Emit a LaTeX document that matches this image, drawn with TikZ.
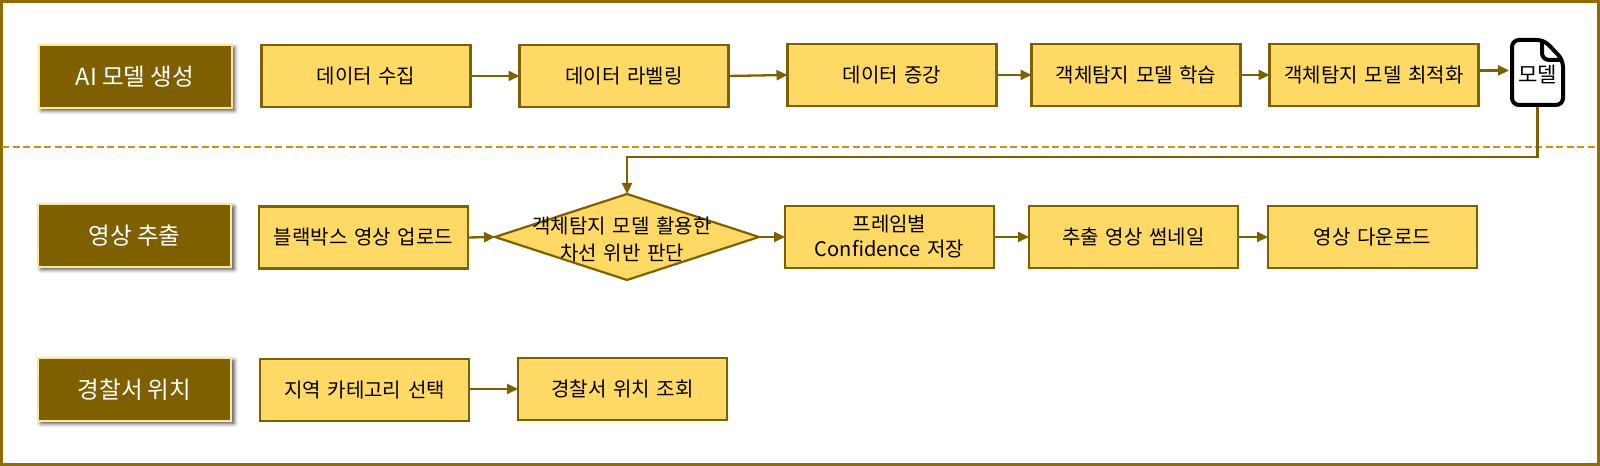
\documentclass[tikz,border=0pt]{standalone}
\usepackage{fontspec}
\setmainfont{Noto Sans CJK KR}
\usepackage{xcolor}
\usepackage{tikz}
\usetikzlibrary{calc}
\usetikzlibrary{shapes.geometric, arrows.meta, shadows.blur}
\definecolor{boxLine}{HTML}{7F6000}
\definecolor{boxFill}{HTML}{FFD966}
\definecolor{titleLine}{HTML}{FFE699}
\definecolor{sepLine}{HTML}{C8960C}
\definecolor{frameLine}{HTML}{8F6C00}
\tikzstyle{title} = [rectangle, 
minimum width=1.93cm, 
minimum height=0.63cm, 
inner sep=0pt, outer sep=0pt,
fill=boxLine, 
draw=titleLine, 
line width=0.02cm, 
text=white, 
font=\fontsize{6.7pt}{8pt}\selectfont,
blur shadow={shadow xshift=0.03cm, shadow yshift=-0.02cm, shadow blur radius=0.04cm, shadow opacity=75}]
\tikzstyle{process} = [rectangle, 
minimum height=0.62cm, 
text width=2.09cm, 
text centered, 
inner sep=0pt, outer sep=0pt,
fill=boxFill, 
draw=boxLine, 
line width=0.022cm, 
font=\fontsize{5.7pt}{7.1pt}\selectfont]
\tikzstyle{decision} = [diamond, 
minimum width=2.64cm, 
minimum height=0.86cm, 
inner sep=0pt, outer sep=0pt,
fill=boxFill, 
draw=boxLine, 
line width=0.022cm]
\tikzstyle{decisionText} = [text width=2.4cm, 
text centered, 
inner sep=0pt, 
font=\fontsize{5.7pt}{7.6pt}\selectfont]
\tikzstyle{modelFile} = [rectangle, 
minimum width=0.51cm, 
minimum height=0.65cm, 
inner sep=0pt, outer sep=0pt]
\tikzstyle{fileLine} = [draw=black, line width=0.04cm, rounded corners=0.07cm]
\tikzstyle{arrow} = [line width=0.023cm, draw=boxLine, -{Triangle[length=0.11cm, width=0.1cm]}]
\tikzstyle{frame} = [draw=frameLine, line width=0.03cm]
\tikzstyle{sep} = [draw=sepLine, line width=0.023cm, dash pattern=on 0.07cm off 0.035cm]

\begin{document}
\begin{tikzpicture}
			\useasboundingbox (0,0) rectangle (16,4.66);
			\draw [frame] (0.012,0.012) rectangle (15.988,4.648);
			
			\coordinate (sepLeft) at (0.02,3.19);
			\coordinate (sepRight) at (15.98,3.19);
			\draw [sep] (sepLeft) -- (sepRight);
			
			\node (titleModel)[title] at (1.35,3.89) {AI 모델 생성};
			\node (collect)[process, right=0.3cm, yshift=0.01cm] at (titleModel.east) {데이터 수집};
			\node (label)[process, right=0.49cm] at (collect.east) {데이터 라벨링};
			\node (augment)[process, right=0.59cm, yshift=0.01cm] at (label.east) {데이터 증강};
			\node (train)[process, right=0.35cm] at (augment.east) {객체탐지 모델 학습};
			\node (optimize)[process, right=0.29cm] at (train.east) {객체탐지 모델 최적화};
			\node (model)[modelFile] at (15.375,3.935) {};
			\draw [fileLine, fill=white] ([xshift=0.32cm]model.north west) -- (model.north west) -- (model.south west) -- (model.south east) -- ([yshift=-0.2cm]model.north east) -- cycle;
			\draw [fileLine] ([xshift=0.3cm]model.north west) -- ++(0,-0.2) -- ([yshift=-0.2cm]model.north east);
			\node (modelText) at ([yshift=-0.025cm]model.center) {\fontsize{6pt}{7.1pt}\selectfont 모델};
			
			\draw [arrow] (collect.east) -- (label.west);
			\draw [arrow] (label.east) -- (augment.west);
			\draw [arrow] (augment.east) -- (train.west);
			\draw [arrow] (train.east) -- (optimize.west);
			\draw [arrow] ([yshift=0.045cm]optimize.east) -- ([xshift=-0.03cm, yshift=0.045cm]optimize.east -| model.west);
			
			\node (titleVideo)[title] at (1.345,2.30) {영상 추출};
			\node (upload)[process, right=0.28cm, yshift=-0.015cm] at (titleVideo.east) {블랙박스 영상 업로드};
			\node (judge)[decision] at (6.27,2.29) {};
			\node (judgeText)[decisionText, xshift=-0.05cm, yshift=-0.025cm] at (judge) {객체탐지 모델 활용한\\차선 위반 판단};
			\node (frames)[process, right=0.26cm] at (judge.east) {프레임별\\Confidence 저장};
			\node (thumb)[process, right=0.35cm] at (frames.east) {추출 영상 썸네일};
			\node (download)[process, right=0.3cm] at (thumb.east) {영상 다운로드};
			
			\draw [arrow] ([yshift=-0.02cm]model.south) -- ++(0,-0.5) -| (judge.north);
			\draw [arrow] (upload.east) -- (judge.west);
			\draw [arrow] (judge.east) -- (frames.west);
			\draw [arrow] (frames.east) -- (thumb.west);
			\draw [arrow] (thumb.east) -- (download.west);
			
			\node (titlePolice)[title] at (1.345,0.76) {경찰서 위치};
			\node (region)[process, right=0.29cm] at (titlePolice.east) {지역 카테고리 선택};
			\node (police)[process, right=0.49cm, yshift=0.01cm] at (region.east) {경찰서 위치 조회};
			
			\draw [arrow] (region.east |- police.west) -- (police.west);
		\end{tikzpicture}
\end{document}
